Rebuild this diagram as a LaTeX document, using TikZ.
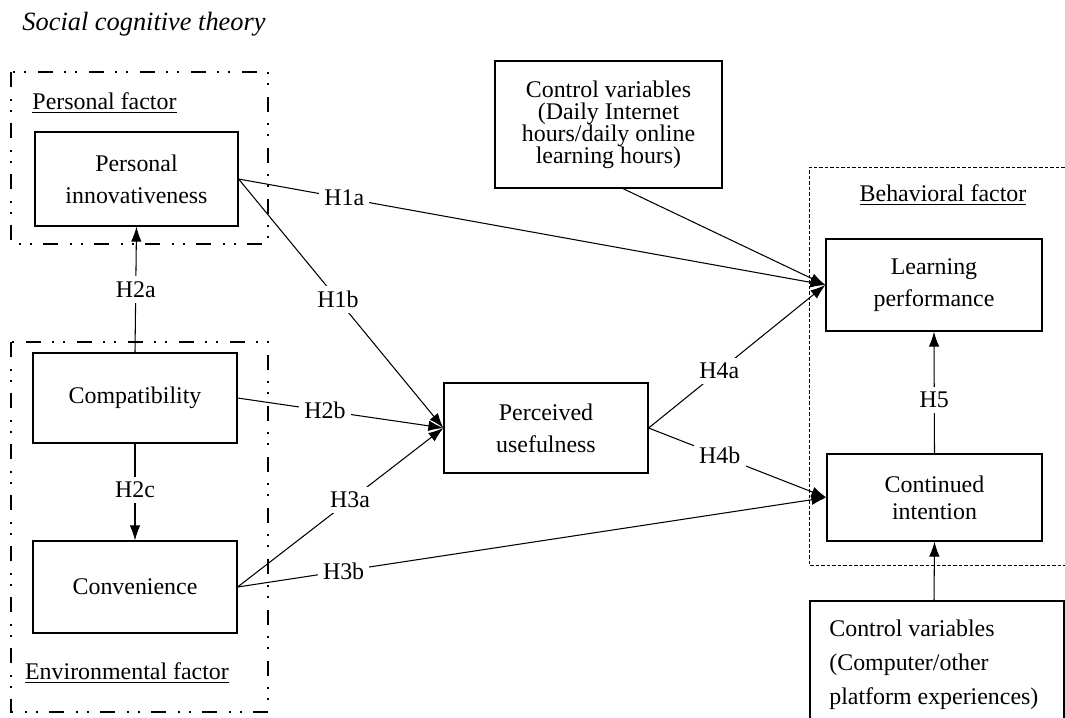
\documentclass[tikz,border=0pt]{standalone}
\usepackage{fontspec}
\setmainfont{Liberation Serif}
\usepackage{tikz}
\usetikzlibrary{arrows.meta, positioning}

\begin{document}
\begin{tikzpicture}[font=\fontsize{13.6}{18.2}\selectfont,
  box/.style={draw, line width=0.7pt, align=center, inner sep=2pt},
  lbl/.style={fill=white, inner sep=3pt},
  arr/.style={-{Latex[length=3mm,width=2.1mm]}, line width=0.6pt},
  grp/.style={line width=1.4pt, line cap=butt, dash pattern=on 0.3cm off 0.24cm on 0.04cm off 0.18cm on 0.04cm off 0.22cm},
  dotgrp/.style={line width=0.5pt, dash pattern=on 0.07cm off 0.04cm}
]
  \useasboundingbox (0,0) rectangle (21.3,-14.34);
  % Title
  \node (sct) at (2.88,-0.48) {\fontsize{15}{18}\selectfont\itshape Social cognitive theory};

  % Factor groups
  \draw[grp] (0.22,-1.44) rectangle (5.36,-4.88);
  \draw[grp] (0.22,-6.84) rectangle (5.36,-14.24);
  \draw[dotgrp] (21.4,-3.34) -- (16.18,-3.34) -- (16.18,-11.3) -- (21.4,-11.3);
  \node (pf) at (2.09,-2.06) {\underline{Personal factor}};
  \node (ef) at (2.54,-13.46) {\underline{Environmental factor}};
  \node (bf) at (18.86,-3.90) {\underline{Behavioral factor}};

  % Constructs
  \node[box, minimum width=4.06cm, minimum height=1.88cm] (pi) at (2.73,-3.58) {Personal\\innovativeness};
  \node[box, minimum width=4.08cm, minimum height=1.80cm] (compat) at (2.70,-7.96) {Compatibility};
  \node[box, minimum width=4.08cm, minimum height=1.84cm] (conv) at (2.70,-11.74) {Convenience};
  \node[box, minimum width=4.08cm, minimum height=1.80cm] (pu) at (10.92,-8.56) {Perceived\\usefulness};
  \node[box, minimum width=4.32cm, minimum height=1.84cm] (lp) at (18.68,-5.70) {Learning\\performance};
  \node[box, minimum width=4.30cm, minimum height=1.74cm, font=\fontsize{13.6}{15.3}\selectfont] (ci) at (18.69,-9.95) {Continued\\intention};

  % Control variables
  \node[box, minimum width=4.54cm, minimum height=2.54cm, font=\fontsize{13.6}{12.6}\selectfont] (ctrla) at (12.17,-2.49) {Control variables\\(Daily Internet\\hours/daily online\\learning hours)};
  \node[align=left, anchor=west, inner sep=0pt, font=\fontsize{13.6}{19.3}\selectfont] (ctrlb) at (16.58,-13.3) {Control variables\\(Computer/other\\platform experiences)};
  \draw[line width=0.7pt] (16.2,-14.5) -- (16.2,-12.02) -- (21.28,-12.02) -- (21.28,-14.5);
  \coordinate (ctrlbtop) at (18.68,-12.02);

  % Hypotheses
  \foreach \a/\b/\p/\h in {pi/lp/0.18/H1a, pi/pu/0.485/H1b, compat/pu/0.425/H2b, conv/pu/0.546/H3a,
                           conv/ci/0.18/H3b, pu/lp/0.40/H4a, pu/ci/0.40/H4b} {
    \draw[arr] (\a.east) -- node[lbl, pos=\p] {\h} (\b.west);
  }
  \draw[arr] (compat.north) -- node[lbl, pos=0.5] {H2a} (pi.south);
  \draw[arr] (compat.south) -- node[lbl, pos=0.48] {H2c} (conv.north);
  \draw[arr] (ci.north) -- node[lbl, pos=0.44] {H5} (lp.south);

  % Control links
  \draw[arr] ([xshift=0.29cm]ctrla.south) -- (lp.west);
  \draw[arr] (ctrlbtop) -- (ci.south);
\end{tikzpicture}
\end{document}
